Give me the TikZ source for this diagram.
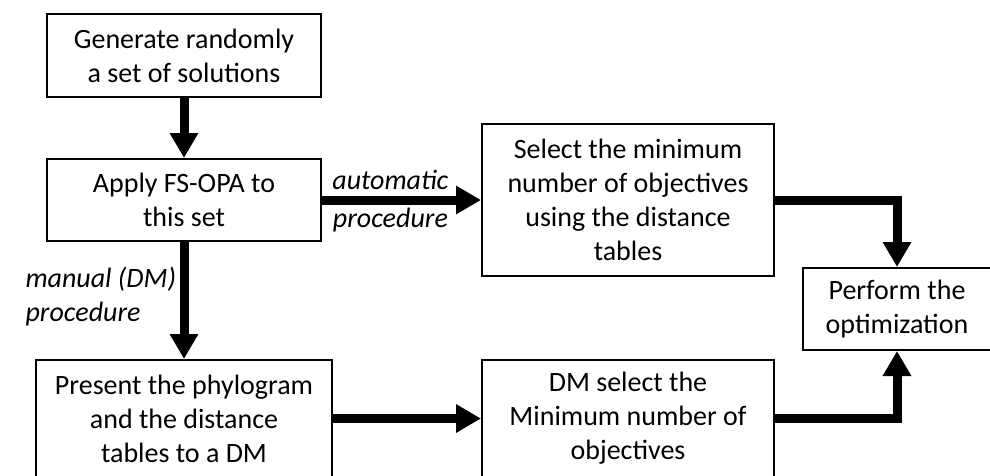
\documentclass[tikz,border=0pt]{standalone}
\usepackage{fontspec}
\setmainfont{Carlito}
\usetikzlibrary{positioning}
\usetikzlibrary{arrows.meta}

\tikzset{
  box/.style={draw, line width=2pt, align=center, inner sep=0pt, font=\fontsize{28}{34}\selectfont},
  flow/.style={line width=9pt, -{Triangle[width=27pt,length=25pt]}},
  proc/.style={font=\fontsize{28}{34}\selectfont\itshape, align=left}
}

\begin{document}
\begin{tikzpicture}[x=1pt,y=-1pt,node distance=0,on grid=false]

    \useasboundingbox (0,0) rectangle (990,475);

    % Place nodes
    \node [box, minimum width=274pt, minimum height=83pt] (gen) at (184,55.5) {Generate randomly\\a set of solutions};
    \node [box, minimum width=274pt, minimum height=82pt, below=60pt of gen] (apply) {Apply FS-OPA to\\this set};
    \node [box, minimum width=292pt, minimum height=152pt, right=159pt of apply] (select) {Select the minimum\\number of objectives\\using the distance\\tables};
    \node [box, minimum width=296pt, minimum height=117pt, below=117pt of apply] (present) {Present the phylogram\\and the distance\\tables to a DM};
    \node [box, minimum width=292pt, minimum height=117pt, right=148pt of present] (dmsel) {DM select the\\Minimum number of\\objectives};
    \node [box, minimum width=188pt, minimum height=82pt] (perform) at (897,309) {Perform the\\optimization};

    % Connect nodes
    \draw [flow] (gen) -- (apply);
    \draw [flow] (apply) -- node [pos=0.43, above=2pt, proc] {automatic} node [pos=0.43, below, proc] {procedure} (select);
    \draw [flow] (apply) -- node [pos=0.47, left, proc] {manual (DM)\\procedure} (present);
    \draw [flow] (select.east) -| (perform.north);
    \draw [flow] (present) -- (dmsel);
    \draw [flow] (dmsel.east) -| (perform.south);
\end{tikzpicture}
\end{document}
